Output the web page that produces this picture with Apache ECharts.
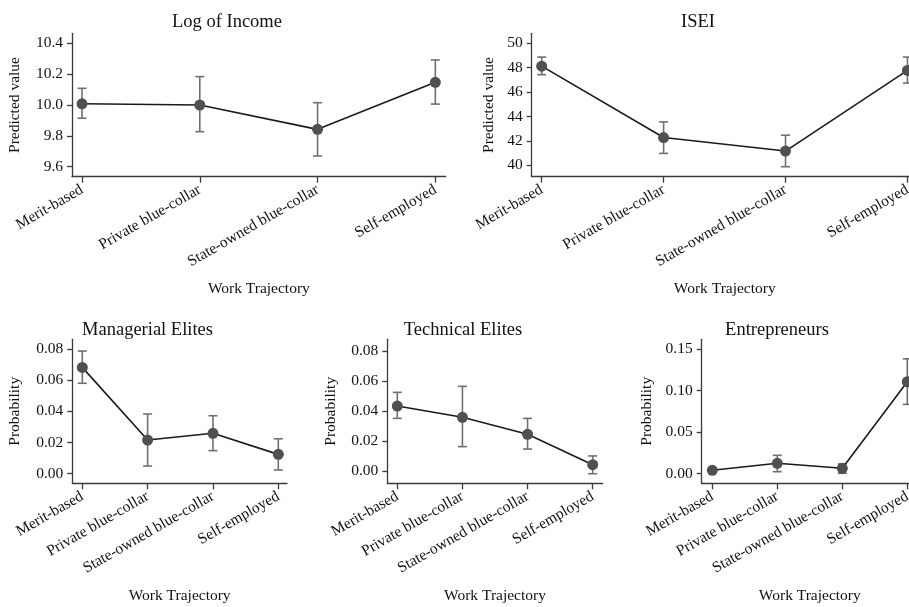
<!DOCTYPE html>
<html>
<head>
<meta charset="utf-8">
<script src="https://cdn.jsdelivr.net/npm/echarts@6/dist/echarts.min.js"></script>
<style>
  html, body { margin: 0; padding: 0; background: #fff; }
  #chart { width: 909px; height: 607px; }
</style>
</head>
<body>
<div id="chart"></div>
<script>
// Work trajectory categories (shared by every panel)
const categories = ['Merit-based', 'Private blue-collar', 'State-owned blue-collar', 'Self-employed'];

// Log of income: point estimate and 95% interval
const incomeEst = [10.008, 10.000, 9.842, 10.147];
const incomeLo  = [9.914, 9.827, 9.669, 10.006];
const incomeHi  = [10.108, 10.184, 10.015, 10.292];
const incomeTicks = [9.6, 9.8, 10.0, 10.2, 10.4];

// ISEI
const iseiEst = [48.13, 42.28, 41.17, 47.78];
const iseiLo  = [47.43, 40.98, 39.89, 46.74];
const iseiHi  = [48.87, 43.56, 42.47, 48.87];
const iseiTicks = [40, 42, 44, 46, 48, 50];

// Managerial elites (probability)
const manEst = [0.0682, 0.0216, 0.0259, 0.0124];
const manLo  = [0.0580, 0.0049, 0.0148, 0.0024];
const manHi  = [0.0787, 0.0383, 0.0372, 0.0224];
const manTicks = [0, 0.02, 0.04, 0.06, 0.08];

// Technical elites (probability)
const techEst = [0.0434, 0.0359, 0.0246, 0.0044];
const techLo  = [0.0352, 0.0164, 0.0148, -0.0016];
const techHi  = [0.0525, 0.0565, 0.0352, 0.0102];
const techTicks = [0, 0.02, 0.04, 0.06, 0.08];

// Entrepreneurs (probability)
const entEst = [0.0041, 0.0125, 0.0065, 0.1106];
const entLo  = [0.0030, 0.0024, 0.0005, 0.0834];
const entHi  = [0.0052, 0.0221, 0.0117, 0.1382];
const entTicks = [0, 0.05, 0.10, 0.15];

const FONT = '"Liberation Serif", "DejaVu Serif", serif';
const TEXT = '#111';
const AXIS = '#3a3a3a';

const panels = [
  { title: 'Log of Income', yName: 'Predicted value', est: incomeEst, lo: incomeLo, hi: incomeHi, ticks: incomeTicks, dec: 1,
    grid: { left: 72, top: 33.3, width: 373.7, height: 143.4 }, xr: [-0.085, 3.088], yr: [9.535, 10.465], titleX: 227, titleY: 13, yGap: 49 },
  { title: 'ISEI', yName: 'Predicted value', est: iseiEst, lo: iseiLo, hi: iseiHi, ticks: iseiTicks, dec: 0,
    grid: { left: 531.7, top: 33.3, width: 386.1, height: 143.4 }, xr: [-0.082, 3.085], yr: [39.07, 50.82], titleX: 698, titleY: 13, yGap: 35 },
  { title: 'Managerial Elites', yName: 'Probability', est: manEst, lo: manLo, hi: manHi, ticks: manTicks, dec: 2,
    grid: { left: 72.3, top: 339.3, width: 214.7, height: 144 }, xr: [-0.153, 3.133], yr: [-0.00616, 0.08622], titleX: 147.5, titleY: 321, yGap: 49 },
  { title: 'Technical Elites', yName: 'Probability', est: techEst, lo: techLo, hi: techHi, ticks: techTicks, dec: 2,
    grid: { left: 387.3, top: 339.3, width: 215.4, height: 144 }, xr: [-0.1535, 3.1535], yr: [-0.00798, 0.08778], titleX: 463, titleY: 321, yGap: 48 },
  { title: 'Entrepreneurs', yName: 'Probability', est: entEst, lo: entLo, hi: entHi, ticks: entTicks, dec: 2,
    grid: { left: 701.7, top: 339.3, width: 216.2, height: 144 }, xr: [-0.163, 3.163], yr: [-0.01155, 0.16167], titleX: 777, titleY: 321, yGap: 47 }
];

// Vertical interval with short caps, placed through the panel's own axes
function errorBar(params, api) {
  const x = api.value(0);
  const top = api.coord([x, api.value(2)]);
  const bot = api.coord([x, api.value(1)]);
  const cap = 4.5;
  const style = { stroke: '#707070', lineWidth: 1.6 };
  return {
    type: 'group',
    children: [
      { type: 'line', shape: { x1: top[0], y1: top[1], x2: bot[0], y2: bot[1] }, style },
      { type: 'line', shape: { x1: top[0] - cap, y1: top[1], x2: top[0] + cap, y2: top[1] }, style },
      { type: 'line', shape: { x1: bot[0] - cap, y1: bot[1], x2: bot[0] + cap, y2: bot[1] }, style }
    ]
  };
}

const option = {
  animation: false,
  backgroundColor: '#fff',
  title: [], grid: [], xAxis: [], yAxis: [], series: []
};

panels.forEach((p, i) => {
  option.title.push({
    text: p.title, left: p.titleX, top: p.titleY, textAlign: 'center', padding: 0,
    textStyle: { fontFamily: FONT, fontSize: 18.5, fontWeight: 'normal', color: TEXT }
  });
  option.grid.push(Object.assign({ containLabel: false, outerBoundsMode: 'none' }, p.grid));
  option.xAxis.push({
    gridIndex: i, type: 'value', min: p.xr[0], max: p.xr[1],
    name: 'Work Trajectory', nameLocation: 'middle', nameGap: i < 2 ? 104 : 105,
    nameTextStyle: { fontFamily: FONT, fontSize: 15.5, color: TEXT },
    axisLine: { show: true, onZero: false, lineStyle: { color: AXIS, width: 1.3 } },
    axisTick: { show: true, length: 6, customValues: [0, 1, 2, 3], lineStyle: { color: AXIS, width: 1.3 } },
    axisLabel: {
      customValues: [0, 1, 2, 3], rotate: 30, margin: 12,
      fontFamily: FONT, fontSize: 15.5, color: TEXT,
      formatter: v => categories[Math.round(v)]
    },
    splitLine: { show: false }
  });
  option.yAxis.push({
    gridIndex: i, type: 'value', min: p.yr[0], max: p.yr[1],
    name: p.yName, nameLocation: 'middle', nameGap: p.yGap, nameRotate: 90,
    nameTextStyle: { fontFamily: FONT, fontSize: 15.5, color: TEXT },
    axisLine: { show: true, onZero: false, lineStyle: { color: AXIS, width: 1.3 } },
    axisTick: { show: true, length: 5, customValues: p.ticks, lineStyle: { color: AXIS, width: 1.3 } },
    axisLabel: {
      customValues: p.ticks, margin: 9,
      fontFamily: FONT, fontSize: 15.5, color: TEXT,
      formatter: v => Number(v).toFixed(p.dec)
    },
    splitLine: { show: false }
  });
  option.series.push({
    type: 'custom', xAxisIndex: i, yAxisIndex: i, z: 2,
    renderItem: errorBar,
    data: p.est.map((_, k) => [k, p.lo[k], p.hi[k]])
  });
  option.series.push({
    type: 'line', xAxisIndex: i, yAxisIndex: i, z: 3, clip: false,
    data: p.est.map((v, k) => [k, v]),
    symbol: 'circle', symbolSize: 11, showSymbol: true,
    lineStyle: { color: '#1a1a1a', width: 1.6 },
    itemStyle: { color: '#505050' }
  });
});

const chart = echarts.init(document.getElementById('chart'), null, { renderer: 'canvas' });
chart.setOption(option);
</script>
</body>
</html>
